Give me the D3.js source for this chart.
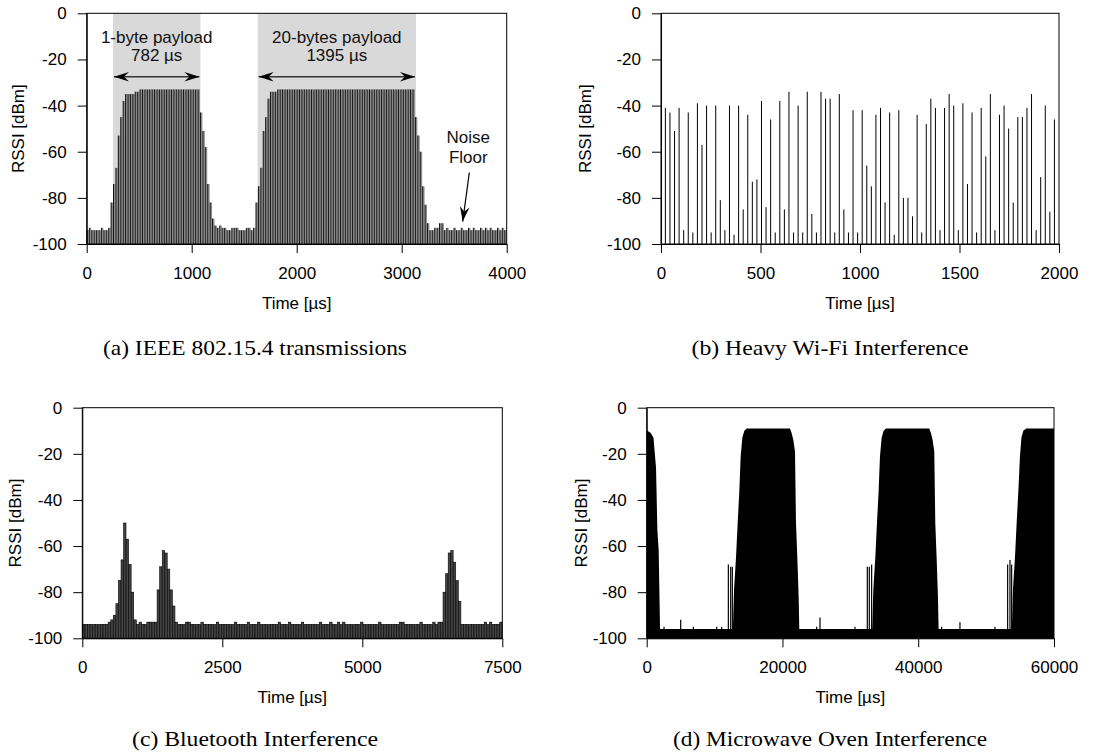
<!DOCTYPE html>
<html><head><meta charset="utf-8">
<script src="https://cdn.jsdelivr.net/npm/d3@7"></script>
<style>body{margin:0;background:#fff}svg{display:block}text{font-weight:400}</style>
</head><body>
<svg id="c" width="1099" height="754"></svg>
<script>
// ---------------- DATA ----------------
const yTicks = [0, -20, -40, -60, -80, -100];
const yTitle = "RSSI [dBm]";
const xTitle = "Time [µs]";

// (a) IEEE 802.15.4 transmissions: one RSSI sample every 23 µs
const aPeriod = 23, aStart = 11.5;
const aTicks = [0, 1000, 2000, 3000, 4000];
const aRSSI = [
 -94,-93,-94,-94,-94,-94,-93,-94,-94,-93,
 -82,-74,-67,-53,-45,-38,-35,-35,-35,-35,-34,-34,
 -33,-33,-33,-33,-33,-33,-33,-33,-33,-33,
 -33,-33,-33,-33,-33,-33,-33,-33,-33,-33,
 -33,-33,-33,-33,-33,
 -43,-51,-58,-74,-82,-89,-92,
 -93,-92,-93,-93,-94,-94,-93,-93,-93,-94,-94,-94,-93,-93,-94,-93,
 -82,-75,-67,-51,-45,-37,-34,-34,-34,
 -33,-33,-33,-33,-33,-33,-33,-33,-33,-33,
 -33,-33,-33,-33,-33,-33,-33,-33,-33,-33,
 -33,-33,-33,-33,-33,-33,-33,-33,-33,-33,
 -33,-33,-33,-33,-33,-33,-33,-33,-33,-33,
 -33,-33,-33,-33,-33,-33,-33,-33,-33,-33,
 -33,-33,-33,-33,-33,-33,-33,
 -45,-53,-60,-75,-83,-91,
 -94,-94,-93,-93,-91,-91,-94,-93,-94,-94,-93,-94,-94,-93,-94,-94,
 -93,-94,-93,-94,-94,-93,-94,-93,-94,-93,-94,-94,-93,-94,-93,-94
];
const aShades = [[250, 1083], [1628, 3136]];
const aArrows = [[250, 1083, -27.5], [1628, 3136, -27.5]];
const aLabels = [["1-byte payload", "782 µs"], ["20-bytes payload", "1395 µs"]];
const aNoiseText = ["Noise", "Floor"];
const aNoiseTextPos = [3634, -54, -62.6];
const aNoiseArrow = [[3644, -69], [3581, -90.3]];

// (b) Heavy Wi-Fi interference
const bPeriod = 23, bStart = 22;
const bTicks = [0, 500, 1000, 1500, 2000];
const bRSSI = [
 -41,-43,-51,-41,-94,-43,-95,-39,-57,-40,
 -95,-40,-81,-94,-40,-96,-40,-85,-44,-73,
 -72,-38,-84,-46,-95,-38,-85,-34,-95,-40,
 -95,-34,-87,-95,-34,-37,-37,-95,-35,-85,
 -95,-42,-95,-42,-66,-75,-44,-41,-82,-43,
 -96,-42,-80,-80,-88,-44,-95,-48,-37,-41,
 -94,-41,-35,-40,-94,-39,-74,-43,-95,-41,
 -62,-35,-94,-44,-40,-50,-82,-45,-45,-41,
 -35,-94,-71,-40,-86,-46
];

// (c) Bluetooth interference: one sample every 46 µs
const cPeriod = 46, cStart = 23;
const cTicks = [0, 2500, 5000, 7500];
const cRSSI = [
 -94,-94,-94,-94,-94,-94,-94,-94,-94,-94,
 -93,-92,-90,-85,-75,-66,-50,-57,-68,-80,
 -92,-94,-93,-94,-94,-93,-93,-93,-93,-79,
 -69,-62,-63,-70,-79,-86,-93,-94,-94,-94,
 -93,-93,-94,-94,-94,-94,-93,-94,-94,-94,
 -94,-94,-93,-94,-94,-94,-94,-94,-94,-93,
 -94,-94,-94,-94,-93,-94,-94,-94,-93,-94,
 -94,-94,-94,-94,-94,-94,-93,-94,-94,-94,
 -93,-94,-94,-94,-94,-93,-94,-94,-94,-94,
 -94,-94,-93,-94,-94,-94,-93,-94,-94,-93,
 -94,-93,-94,-94,-94,-94,-94,-94,-93,-94,
 -94,-94,-94,-94,-94,-93,-94,-94,-94,-94,
 -94,-94,-94,-93,-93,-94,-94,-94,-94,-94,
 -94,-93,-94,-94,-94,-94,-93,-94,-93,-93,
 -80,-72,-63,-62,-67,-75,-84,-94,-94,-94,
 -94,-94,-94,-94,-94,-94,-93,-94,-93,-94,
 -94,-94,-93
];

// (d) Microwave oven interference: envelope of the dense RSSI samples [time µs, dBm]
const dTicks = [0, 20000, 40000, 60000];
const dEnvelope = [
 [0,-10],[100,-10],[600,-11],[1000,-13],[1375,-26],[1571,-53],[1767,-62],[1865,-79],[1964,-96],
 [12700,-96],[12862,-79],[13156,-65],[13402,-50],[13647,-36],[13843,-21],[14089,-13],[14383,-10],[14727,-9],
 [21108,-9],[21350,-11],[21600,-14],[21845,-19],[21992,-50],[22188,-65],[22385,-82],[22479,-96],
 [33220,-96],[33382,-79],[33676,-65],[33922,-50],[34167,-36],[34365,-21],[34609,-13],[34903,-10],[35247,-9],
 [41628,-9],[41870,-11],[42120,-14],[42365,-19],[42512,-50],[42708,-65],[42905,-82],[42999,-96],
 [53800,-96],[53950,-79],[54250,-65],[54500,-50],[54750,-36],[54987,-21],[55200,-13],[55478,-10],[55900,-9],
 [60000,-9]
];
const dSpikes = [
 [2553,-95],[5008,-92],[6874,-95],[10311,-95],[11047,-95],
 [12027,-68],[12371,-69],[12616,-69],
 [25040,-95],[25530,-91],[30680,-95],
 [32499,-69],[32793,-69],[33137,-68],
 [43447,-95],[46147,-93],[51303,-95],
 [53170,-68],[53514,-66],[53760,-68]
];

const captions = ["(a) IEEE 802.15.4 transmissions", "(b) Heavy Wi-Fi Interference",
                  "(c) Bluetooth Interference", "(d) Microwave Oven Interference"];

// ---------------- DRAWING ----------------
const svg = d3.select("#c");
const SANS = "'Liberation Sans', Arial, sans-serif";
const SERIF = "'Liberation Serif', 'Times New Roman', serif";

const defs = svg.append("defs");
defs.append("marker").attr("id", "stealth")
  .attr("viewBox", "-16 -6 17 12").attr("refX", 0).attr("refY", 0)
  .attr("markerUnits", "userSpaceOnUse").attr("markerWidth", 17).attr("markerHeight", 12)
  .attr("orient", "auto-start-reverse")
  .append("path").attr("d", "M0,0 L-15,-4.8 L-10,0 L-15,4.8 Z").attr("fill", "#000");

function panel(L) {
  const x = d3.scaleLinear().domain([0, L.xMax]).range([L.left, L.right]);
  const y = d3.scaleLinear().domain([-100, 0]).range([L.bottom, L.top]);
  const g = svg.append("g");
  const marks = g.append("g");
  const axes = () => {
    const ga = g.append("g");
    ga.append("rect").attr("x", L.left).attr("y", L.top)
      .attr("width", L.right - L.left).attr("height", L.bottom - L.top)
      .attr("fill", "none").attr("stroke", "#000").attr("stroke-width", 1);
    const ya = ga.append("g").attr("transform", `translate(${L.left},0)`)
      .call(d3.axisLeft(y).tickValues(yTicks).tickSize(9).tickSizeOuter(0).tickPadding(11).tickFormat(d => String(d)));
    const xa = ga.append("g").attr("transform", `translate(0,${L.bottom})`)
      .call(d3.axisBottom(x).tickValues(L.xTicks).tickSize(9).tickSizeOuter(0).tickPadding(14).tickFormat(d => String(d)));
    [ya, xa].forEach(a => {
      a.selectAll("text").attr("font-family", SANS).attr("font-size", 17).attr("fill", "#000");
      a.selectAll("line").attr("stroke", "#000");
      a.select(".domain").attr("stroke", "#000");
    });
    ga.append("text").attr("transform", `translate(${L.yTitleX},${(L.top + L.bottom) / 2}) rotate(-90)`)
      .attr("text-anchor", "middle").attr("dominant-baseline", "central")
      .attr("font-family", SANS).attr("font-size", 17).text(yTitle);
    ga.append("text").attr("x", (L.left + L.right) / 2).attr("y", L.bottom + 59)
      .attr("text-anchor", "middle").attr("dominant-baseline", "central")
      .attr("font-family", SANS).attr("font-size", 17).text(xTitle);
    const cap = ga.append("text").attr("x", L.capX).attr("y", L.capY)
      .attr("text-anchor", "middle").attr("dominant-baseline", "central")
      .attr("font-family", SERIF).attr("font-size", 22).text(L.caption);
    if (L.capW) cap.attr("textLength", L.capW).attr("lengthAdjust", "spacingAndGlyphs");
  };
  return {x, y, marks, axes};
}

// ---- (a)
{
  const P = panel({left: 86.7, right: 506.7, top: 13.3, bottom: 244, xMax: 4000, xTicks: aTicks,
    yTitleX: 18.3, capX: 255, capY: 347, caption: captions[0], capW: 304});
  const {x, y, marks} = P;
  marks.selectAll("rect.sh").data(aShades).join("rect").attr("class", "sh")
    .attr("x", d => x(d[0])).attr("width", d => x(d[1]) - x(d[0]))
    .attr("y", y(0)).attr("height", y(-100) - y(0)).attr("fill", "#d9d9d9");
  const step = x(aPeriod) - x(0);
  marks.selectAll("rect.bar").data(aRSSI).join("rect").attr("class", "bar")
    .attr("x", (d, i) => x(aStart + i * aPeriod) - step * 0.4)
    .attr("width", step * 0.8)
    .attr("y", d => y(d)).attr("height", d => y(-100) - y(d))
    .attr("fill", "#8c8c8c");
  marks.selectAll("line.edge").data(aRSSI).join("line").attr("class", "edge")
    .attr("x1", (d, i) => x(aStart + i * aPeriod) - step * 0.4)
    .attr("x2", (d, i) => x(aStart + i * aPeriod) - step * 0.4)
    .attr("y1", d => y(d)).attr("y2", y(-100))
    .attr("stroke", "#000").attr("stroke-width", 0.9);
  marks.selectAll("line.arr").data(aArrows).join("line").attr("class", "arr")
    .attr("x1", d => x(d[0]) + 1).attr("x2", d => x(d[1]) - 1)
    .attr("y1", d => y(d[2])).attr("y2", d => y(d[2]))
    .attr("stroke", "#333").attr("stroke-width", 1.5)
    .attr("marker-start", "url(#stealth)").attr("marker-end", "url(#stealth)");
  aLabels.forEach((lab, k) => {
    const cx = x((aArrows[k][0] + aArrows[k][1]) / 2);
    lab.forEach((t, j) => marks.append("text").attr("x", cx).attr("y", 37 + j * 18)
      .attr("text-anchor", "middle").attr("dominant-baseline", "central")
      .attr("font-family", SANS).attr("font-size", 17).attr("fill", "#111").text(t));
  });
  aNoiseText.forEach((t, j) => marks.append("text").attr("x", x(aNoiseTextPos[0]))
    .attr("y", y(aNoiseTextPos[1 + j])).attr("text-anchor", "middle").attr("dominant-baseline", "central")
    .attr("font-family", SANS).attr("font-size", 17).attr("fill", "#111").text(t));
  marks.append("line").attr("x1", x(aNoiseArrow[0][0])).attr("y1", y(aNoiseArrow[0][1]))
    .attr("x2", x(aNoiseArrow[1][0])).attr("y2", y(aNoiseArrow[1][1]))
    .attr("stroke", "#000").attr("stroke-width", 1.2).attr("marker-end", "url(#stealth)");
  P.axes();
}

// ---- (b)
{
  const P = panel({left: 661, right: 1059, top: 13.3, bottom: 244, xMax: 2000, xTicks: bTicks,
    yTitleX: 585, capX: 830, capY: 347, caption: captions[1], capW: 277});
  const {x, y, marks} = P;
  marks.selectAll("line.sp").data(bRSSI).join("line").attr("class", "sp")
    .attr("x1", (d, i) => x(bStart + i * bPeriod)).attr("x2", (d, i) => x(bStart + i * bPeriod))
    .attr("y1", y(-100)).attr("y2", d => y(d))
    .attr("stroke", "#000").attr("stroke-width", 1);
  P.axes();
}

// ---- (c)
{
  const P = panel({left: 82.3, right: 502.3, top: 407.7, bottom: 638.3, xMax: 7500, xTicks: cTicks,
    yTitleX: 15, capX: 255, capY: 738, caption: captions[2], capW: 246});
  const {x, y, marks} = P;
  const step = x(cPeriod) - x(0);
  marks.selectAll("rect.bar").data(cRSSI).join("rect").attr("class", "bar")
    .attr("x", (d, i) => x(cStart + i * cPeriod) - step * 0.46)
    .attr("width", step * 0.92)
    .attr("y", d => y(d)).attr("height", d => y(-100) - y(d))
    .attr("fill", "#444").attr("stroke", "#000").attr("stroke-width", 0.6);
  P.axes();
}

// ---- (d)
{
  const P = panel({left: 646.7, right: 1054, top: 407.7, bottom: 638.3, xMax: 60000, xTicks: dTicks,
    yTitleX: 581.7, capX: 830, capY: 738, caption: captions[3], capW: 314});
  const {x, y, marks} = P;
  const area = d3.area().x(d => x(d[0])).y0(y(-100)).y1(d => y(d[1]));
  marks.append("path").datum(dEnvelope).attr("d", area).attr("fill", "#000");
  marks.selectAll("line.sp").data(dSpikes).join("line").attr("class", "sp")
    .attr("x1", d => x(d[0])).attr("x2", d => x(d[0]))
    .attr("y1", y(-100)).attr("y2", d => y(d[1]))
    .attr("stroke", "#000").attr("stroke-width", 1.2);
  P.axes();
}
</script></body></html>
